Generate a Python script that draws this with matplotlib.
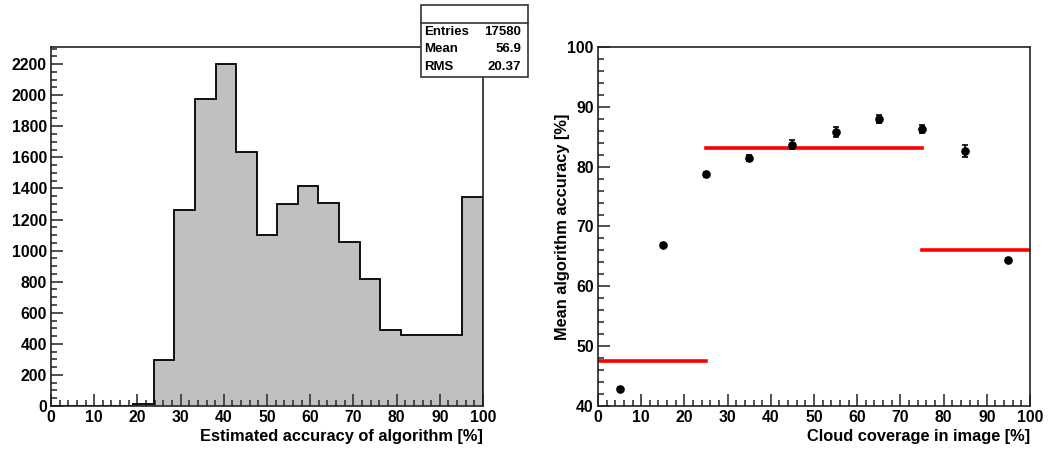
import numpy as np
import matplotlib
matplotlib.use('Agg')
import matplotlib.pyplot as plt
from matplotlib.ticker import MultipleLocator
from matplotlib.patches import Rectangle

plt.rcParams['font.family'] = ['Liberation Sans', 'DejaVu Sans']
plt.rcParams['font.weight'] = 'bold'

# Data: histogram of estimated accuracy (21 bins over 0-100)
hist_counts = [0, 0, 0, 0, 10, 295, 1260, 1975, 2200, 1635, 1100,
               1300, 1415, 1305, 1055, 815, 490, 460, 460, 460, 1345]
n_bins = 21
stats_labels = ['Entries', 'Mean', 'RMS']
stats_values = ['17580', '56.9', '20.37']

# Data: mean accuracy vs cloud coverage
cloud_x = [5, 15, 25, 35, 45, 55, 65, 75, 85, 95]
cloud_y = [42.9, 66.9, 78.7, 81.5, 83.7, 85.8, 88.0, 86.3, 82.6, 64.4]
cloud_err = [0.3, 0.3, 0.4, 0.5, 0.7, 0.8, 0.7, 0.7, 1.0, 0.4]
# red reference levels: (x start, x end, level)
ref_start = [0, 25, 75]
ref_end = [25, 75, 100]
ref_level = [47.5, 83.2, 66.0]

W, H = 1048, 449
fig = plt.figure(figsize=(W / 100, H / 100), dpi=100)


def px_axes(x0, y0, x1, y1):
    return fig.add_axes([x0 / W, 1 - y1 / H, (x1 - x0) / W, (y1 - y0) / H])


def style_axes(ax, xmaj, xmin, ymaj, ymin):
    ax.xaxis.set_major_locator(MultipleLocator(xmaj))
    ax.xaxis.set_minor_locator(MultipleLocator(xmin))
    ax.yaxis.set_major_locator(MultipleLocator(ymaj))
    ax.yaxis.set_minor_locator(MultipleLocator(ymin))
    ax.tick_params(which='both', direction='in', top=False, right=False,
                   color='#333333', width=1.2, labelsize=11.3)
    ax.tick_params(which='major', length=8.5)
    ax.tick_params(which='minor', length=4.2)
    ax.tick_params(axis='y', pad=3)
    ax.tick_params(axis='x', pad=3)
    for sp in ax.spines.values():
        sp.set_linewidth(1.2)
        sp.set_color('#222222')
    for lab in ax.get_xticklabels() + ax.get_yticklabels():
        lab.set_fontweight('bold')


# ---- left: histogram ----
ax1 = px_axes(51, 47, 483, 406)
edges = np.linspace(0, 100, n_bins + 1)
ax1.stairs(hist_counts, edges, fill=True, color='#c0c0c0', zorder=1)
ax1.stairs(hist_counts, edges, color='black', linewidth=1.3, zorder=2)
ax1.set_xlim(0, 100)
ax1.set_ylim(0, max(hist_counts) * 1.05)
style_axes(ax1, 10, 2, 200, 50)
ax1.set_xlabel('Estimated accuracy of algorithm [%]', fontsize=11.8,
               fontweight='bold', loc='right', labelpad=3)

# stats box
bx0, by0, bx1, by1 = 421, 5, 528, 77
fig.patches.append(Rectangle((bx0 / W, 1 - by1 / H), (bx1 - bx0) / W,
                             (by1 - by0) / H, transform=fig.transFigure,
                             facecolor='white', edgecolor='#333333',
                             linewidth=1.2, zorder=5))
fig.add_artist(plt.Line2D([bx0 / W, bx1 / W], [1 - 22.5 / H, 1 - 22.5 / H],
                          transform=fig.transFigure, color='#333333',
                          linewidth=1.2, zorder=6))
for i, (lab, val) in enumerate(zip(stats_labels, stats_values)):
    yy = 1 - (31.7 + 17.7 * i) / H
    fig.text(424 / W, yy, lab, fontsize=9.5, fontweight='bold',
             va='center', ha='left', zorder=7)
    fig.text(521 / W, yy, val, fontsize=9.5, fontweight='bold',
             va='center', ha='right', zorder=7)

# ---- right: mean accuracy vs cloud coverage ----
ax2 = px_axes(598, 47, 1030, 406)
for xs, xe, lv in zip(ref_start, ref_end, ref_level):
    ax2.plot([xs, xe], [lv, lv], color='#ff0000', linewidth=2.6, zorder=2)
ax2.errorbar(cloud_x, cloud_y, yerr=cloud_err, fmt='o', color='black',
             markersize=5.2, elinewidth=1.2, capsize=2, capthick=1.2,
             zorder=3)
ax2.set_xlim(0, 100)
ax2.set_ylim(40, 100)
style_axes(ax2, 10, 2, 10, 2)
ax2.set_xlabel('Cloud coverage in image [%]', fontsize=11.8,
               fontweight='bold', loc='right', labelpad=3)
ax2.set_ylabel('Mean algorithm accuracy [%]', fontsize=11.8,
               fontweight='bold', va='center')
ax2.yaxis.set_label_coords(-0.083, 0.5)

fig.savefig('out.png', dpi=100)
